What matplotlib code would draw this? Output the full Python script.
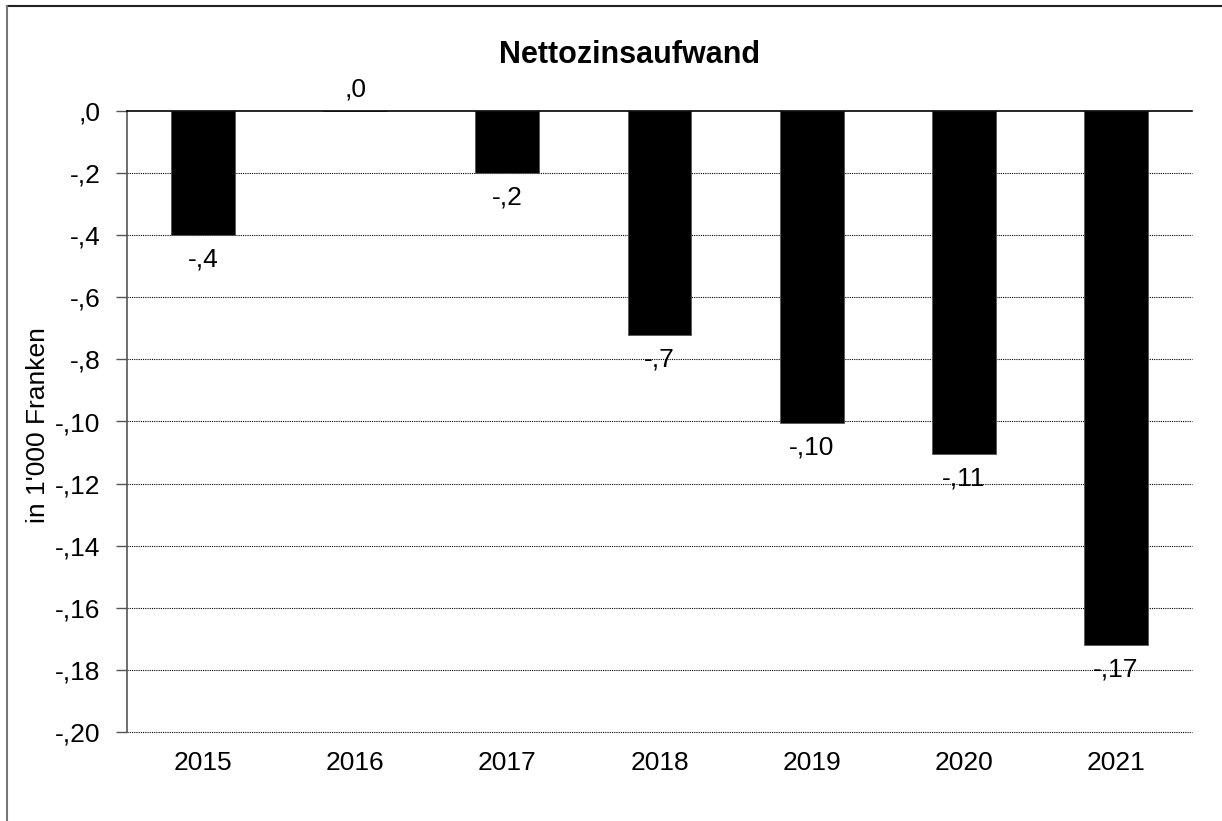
import numpy as np
import matplotlib.pyplot as plt
from matplotlib.lines import Line2D

years = ['2015', '2016', '2017', '2018', '2019', '2020', '2021']
values = [-4.0, 0.0, -2.0, -7.2, -10.05, -11.05, -17.2]
labels = ['-,4', ',0', '-,2', '-,7', '-,10', '-,11', '-,17']
yticks = [0, -2, -4, -6, -8, -10, -12, -14, -16, -18, -20]
ytick_labels = [',0', '-,2', '-,4', '-,6', '-,8', '-,10', '-,12', '-,14', '-,16', '-,18', '-,20']

plt.rcParams['font.family'] = ['Liberation Sans', 'DejaVu Sans']
fs = 19

fig = plt.figure(figsize=(12.22, 8.21), dpi=100)
ax = fig.add_axes([127/1222, 1 - 732/821, (1192-127)/1222, (732-111)/821])

x = np.arange(len(years))
ax.bar(x, values, width=0.42, color='black', edgecolor='#555555', linewidth=0.6, zorder=3)

for xi, v, lab in zip(x, values, labels):
    if v < 0:
        ax.annotate(lab, (xi, v), xytext=(0, -9), textcoords='offset points',
                    ha='center', va='top', fontsize=fs)
    else:
        ax.annotate(lab, (xi, v), xytext=(0, 7), textcoords='offset points',
                    ha='center', va='bottom', fontsize=fs)

ax.set_xlim(-0.5, len(years) - 0.5)
ax.set_ylim(-20, 0)
ax.set_yticks(yticks)
ax.set_yticklabels(ytick_labels, fontsize=fs)
ax.set_xticks(x)
ax.set_xticklabels(years, fontsize=fs)
ax.tick_params(axis='x', length=0, pad=14)
ax.tick_params(axis='y', length=8, width=1, color='#555555', pad=11)

for yv in yticks[1:]:
    ax.axhline(yv, color='black', linestyle=(0, (1, 1)), linewidth=0.8, zorder=1, clip_on=False)
ax.axhline(0, color='black', linewidth=1.2, zorder=4, clip_on=False)

for side in ['top', 'right', 'bottom']:
    ax.spines[side].set_visible(False)
ax.spines['left'].set_color('#555555')
ax.spines['left'].set_linewidth(1.2)

fig.text(630/1222, 1 - 55/821, 'Nettozinsaufwand', fontsize=22, fontweight='bold',
         ha='center', va='center')
fig.text(38/1222, 1 - 425/821, "in 1'000 Franken", rotation=90, fontsize=fs,
         ha='center', va='center')

# frame: only top and left edges visible
fig.lines.append(Line2D([7/1222, 1.0], [1 - 6/821, 1 - 6/821], transform=fig.transFigure,
                        color='#222222', linewidth=1.5))
fig.lines.append(Line2D([7/1222, 7/1222], [1 - 6/821, 0.0], transform=fig.transFigure,
                        color='#777777', linewidth=1.5))

plt.savefig('out.png', dpi=100)
